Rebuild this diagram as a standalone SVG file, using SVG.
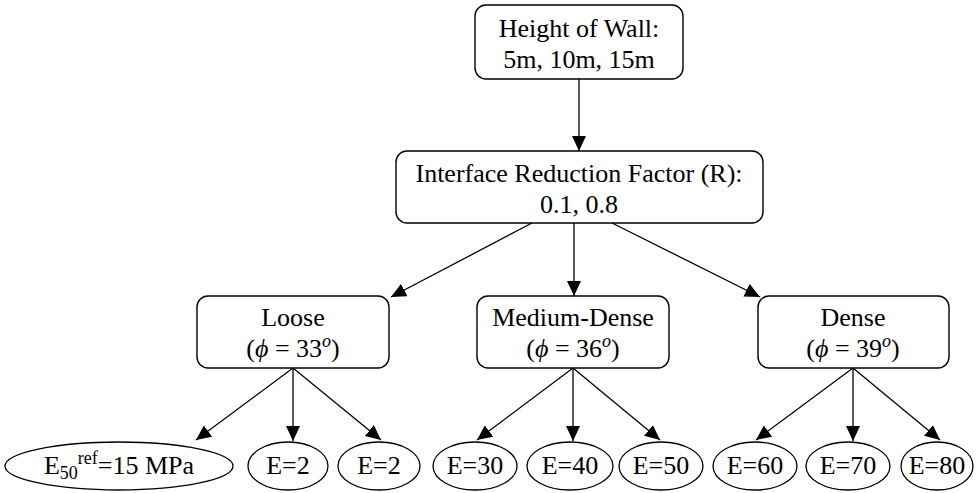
<svg xmlns="http://www.w3.org/2000/svg" width="976" height="493" viewBox="0 0 976 493" font-family="'Liberation Serif', 'Times New Roman', Times, serif">
  <defs>
    <marker id="arrow" markerUnits="userSpaceOnUse" markerWidth="15" markerHeight="14" refX="15" refY="7" orient="auto">
      <path d="M0,0 L15,7 L0,14 Z" fill="#000"/>
    </marker>
    <style>
      .box { fill: #fff; stroke: #000; stroke-width: 1.4; }
      .ell { fill: #fff; stroke: #000; stroke-width: 1.3; }
      .lbl { font-family: 'Liberation Serif', 'Times New Roman', Times, serif; font-size: 26px; fill: #000; text-anchor: middle; }
      .edge { stroke: #000; stroke-width: 1.3; fill: none; marker-end: url(#arrow); }
      .sm { font-size: 18px; }
      .it { font-style: italic; }
    </style>
  </defs>
  <rect width="976" height="493" fill="#fff"/>

  <g id="connectors">
    <line class="edge" x1="579" y1="79" x2="579" y2="151"/>
    <line class="edge" x1="532" y1="223" x2="391" y2="297"/>
    <line class="edge" x1="574" y1="223" x2="574" y2="296"/>
    <line class="edge" x1="612" y1="223" x2="760" y2="297"/>
    <line class="edge" x1="293" y1="368" x2="196" y2="440"/>
    <line class="edge" x1="293" y1="368" x2="293" y2="441"/>
    <line class="edge" x1="293" y1="368" x2="381" y2="440"/>
    <line class="edge" x1="573" y1="368" x2="477" y2="440"/>
    <line class="edge" x1="573" y1="368" x2="573" y2="441"/>
    <line class="edge" x1="573" y1="368" x2="660" y2="440"/>
    <line class="edge" x1="853" y1="368" x2="756" y2="440"/>
    <line class="edge" x1="853" y1="368" x2="853" y2="441"/>
    <line class="edge" x1="853" y1="368" x2="940" y2="440"/>
  </g>

  <g id="height">
    <rect class="box" x="475" y="5" width="208" height="74" rx="11"/>
    <text class="lbl" x="579" y="37">Height of Wall:</text>
    <text class="lbl" x="579" y="68">5m, 10m, 15m</text>
  </g>

  <g id="reduction">
    <rect class="box" x="396" y="151" width="367" height="72" rx="11"/>
    <text class="lbl" x="579" y="182">Interface Reduction Factor (R):</text>
    <text class="lbl" x="579" y="213">0.1, 0.8</text>
  </g>

  <g id="loose">
    <rect class="box" x="197" y="296" width="192" height="72" rx="11"/>
    <text class="lbl" x="293" y="326">Loose</text>
    <text class="lbl" x="293" y="357">(<tspan class="it">ϕ</tspan> = 33<tspan class="it sm" dy="-10">o</tspan><tspan dy="10">)</tspan></text>
  </g>

  <g id="medium">
    <rect class="box" x="477" y="296" width="192" height="72" rx="11"/>
    <text class="lbl" x="573" y="326">Medium-Dense</text>
    <text class="lbl" x="573" y="357">(<tspan class="it">ϕ</tspan> = 36<tspan class="it sm" dy="-10">o</tspan><tspan dy="10">)</tspan></text>
  </g>

  <g id="dense">
    <rect class="box" x="758" y="296" width="191" height="72" rx="11"/>
    <text class="lbl" x="853" y="326">Dense</text>
    <text class="lbl" x="853" y="357">(<tspan class="it">ϕ</tspan> = 39<tspan class="it sm" dy="-10">o</tspan><tspan dy="10">)</tspan></text>
  </g>

  <g id="e50ref">
    <ellipse class="ell" cx="119" cy="466" rx="114" ry="24"/>
    <text class="lbl" x="119" y="474">E<tspan class="sm" dy="5">50</tspan><tspan class="sm" dy="-15">ref</tspan><tspan dy="10">=15 MPa</tspan></text>
  </g>
  <g id="e2a">
    <ellipse class="ell" cx="288" cy="466" rx="40" ry="24"/>
    <text class="lbl" x="288" y="474">E=2</text>
  </g>
  <g id="e2b">
    <ellipse class="ell" cx="379" cy="466" rx="41" ry="24"/>
    <text class="lbl" x="379" y="474">E=2</text>
  </g>
  <g id="e30">
    <ellipse class="ell" cx="475" cy="466" rx="42" ry="24"/>
    <text class="lbl" x="475" y="474">E=30</text>
  </g>
  <g id="e40">
    <ellipse class="ell" cx="570" cy="466" rx="43" ry="24"/>
    <text class="lbl" x="570" y="474">E=40</text>
  </g>
  <g id="e50">
    <ellipse class="ell" cx="661" cy="466" rx="42" ry="24"/>
    <text class="lbl" x="661" y="474">E=50</text>
  </g>
  <g id="e60">
    <ellipse class="ell" cx="755" cy="466" rx="42" ry="24"/>
    <text class="lbl" x="755" y="474">E=60</text>
  </g>
  <g id="e70">
    <ellipse class="ell" cx="848" cy="466" rx="42" ry="24"/>
    <text class="lbl" x="848" y="474">E=70</text>
  </g>
  <g id="e80">
    <ellipse class="ell" cx="937" cy="466" rx="36" ry="24"/>
    <text class="lbl" x="937" y="474">E=80</text>
  </g>
</svg>
